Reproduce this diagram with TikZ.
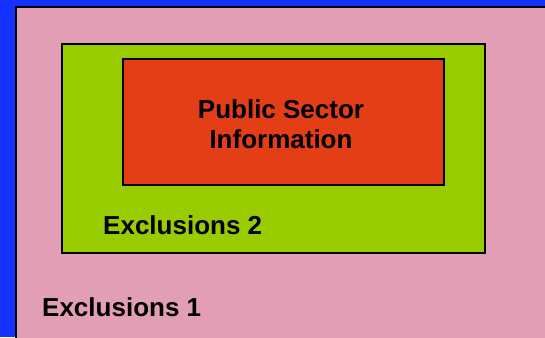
\documentclass[tikz,border=0pt]{standalone}
\usepackage{fontspec}
\setmainfont{Liberation Sans}
\usetikzlibrary{shadows}
\definecolor{bgblue}{RGB}{20,50,255}
\definecolor{outerpink}{RGB}{226,158,181}
\definecolor{midgreen}{RGB}{153,204,0}
\definecolor{innerred}{RGB}{227,62,21}

\begin{document}
\begin{tikzpicture}[x=1pt, y=-1pt,
    frame/.style={draw=black, line width=2pt},
    txt/.style={font=\fontsize{26}{30}\selectfont\bfseries, inner sep=0pt}]
  \useasboundingbox (0,0) rectangle (545,337);
  \clip (0,0) rectangle (545,337);
  % Background
  \fill[bgblue] (0,0) rectangle (545,337);
  \filldraw[frame, fill=outerpink] (15.7,6.7) rectangle (552,345);

  % Boxes
  \filldraw[frame, fill=midgreen,
    drop shadow={shadow xshift=1.2pt, shadow yshift=-1.2pt, fill=black!45}]
    (62.3,44) rectangle (485,252.7);
  \filldraw[frame, fill=innerred] (123,59) rectangle (444.3,185.3);

  % Labels
  \node[txt, align=center] (psi) at (281,124) {Public Sector\\Information};
  \node[txt, anchor=base west] (excl2) at (103,234.3) {Exclusions 2};
  \node[txt, anchor=base west] (excl1) at (42,316.7) {Exclusions 1};
\end{tikzpicture}
\end{document}
